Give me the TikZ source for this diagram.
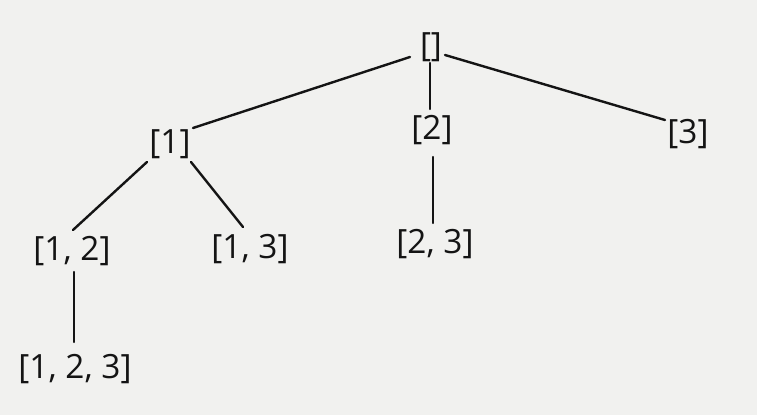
\documentclass[tikz,border=0pt]{standalone}
\usepackage{fontspec}
\setmainfont{Open Sans}
\definecolor{bgpaper}{RGB}{241,241,239}
\definecolor{inkline}{RGB}{20,20,20}
\tikzset{
  setnode/.style={inner sep=0pt, outer sep=0pt, text height=0.714em+5pt, text depth=0.158em,
    font=\fontsize{16.7pt}{18pt}\selectfont, text=inkline},
  treeline/.style={draw=inkline, line width=1.2pt, line cap=round}
}
\begin{document}
\begin{tikzpicture}[x=0.5pt,y=-0.5pt]
\fill[bgpaper] (0,0) rectangle (757,415);
\useasboundingbox (0,0) rectangle (757,415);
\node[setnode] (root) at (431,46) {[]};
\node[setnode] (n1) at (170,143) {[1]};
\node[setnode] (n2) at (432,129) {[2]};
\node[setnode] (n3) at (688,133) {[3]};
\node[setnode] (n12) at (72,250) {[1, 2]};
\node[setnode] (n13) at (250,248) {[1, 3]};
\node[setnode] (n23) at (435,243) {[2, 3]};
\node[setnode] (n123) at (75,368) {[1, 2, 3]};
\draw[treeline] ([shift={(-21,11)}]root.center) -- ([shift={(23,-15)}]n1.center);
\draw[treeline] ([shift={(-1,17)}]root.center) -- ([shift={(-2,-20)}]n2.center);
\draw[treeline] ([shift={(14,9)}]root.center) -- ([shift={(-23,-13)}]n3.center);
\draw[treeline] ([shift={(-23,19)}]n1.center) -- ([shift={(1,-20)}]n12.center);
\draw[treeline] ([shift={(21,19)}]n1.center) -- ([shift={(-7,-21)}]n13.center);
\draw[treeline] ([shift={(1,28)}]n2.center) -- ([shift={(-2,-20)}]n23.center);
\draw[treeline] ([shift={(2,22)}]n12.center) -- ([shift={(-1,-26)}]n123.center);
\end{tikzpicture}
\end{document}
